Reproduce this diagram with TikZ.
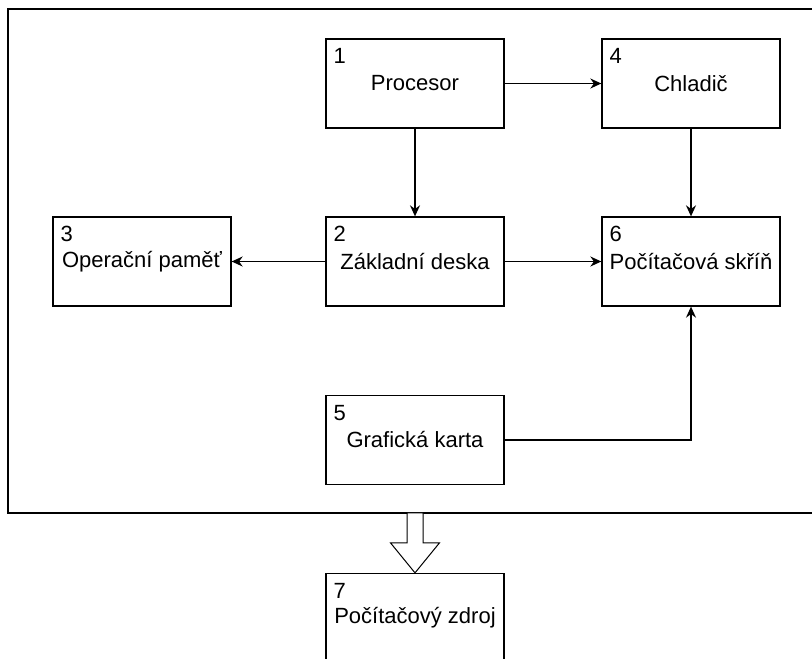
\documentclass[tikz,border=0pt]{standalone}
\usepackage{fontspec}
\setmainfont{Liberation Sans}
\usetikzlibrary{arrows.meta}

\begin{document}
\begin{tikzpicture}[x=1pt,y=-1pt,
    blok/.style={draw, line width=1.3pt, minimum width=178pt, minimum height=89pt,
        inner sep=0pt, font=\fontsize{22}{26}\selectfont},
    cislo/.style={anchor=north west, inner sep=0pt, xshift=8pt, yshift=-10pt,
        font=\fontsize{22}{26}\selectfont},
    sipka/.style={line width=1.4pt, -{Stealth[length=11pt,width=10pt]}}]
        % Okraje obrazku
        \useasboundingbox (0,0) rectangle (812,659);
        \clip (0,0) rectangle (812,659);

        % Ramecek (skrin)
        \draw[line width=1.3pt] (830,9) -- (8,9) -- (8,513) -- (830,513);

        % Bloky
        \node[blok, label={[cislo]north west:1}] (procesor) at (415,83.5) {Procesor};
        \node[blok, label={[cislo]north west:4}] (chladic) at (691,83.5) {Chladič};
        \node[blok, label={[cislo]north west:2}] (deska) at (415,261.5) {Základní deska};
        \node[blok, label={[cislo]north west:3}] (pamet) at (142,261.5) {Operační paměť};
        \node[blok, label={[cislo]north west:6}] (skrin) at (691,261.5) {Počítačová skříň};
        \node[blok, label={[cislo]north west:5}] (karta) at (415,440) {Grafická karta};
        \node[blok, label={[cislo]north west:7}] (zdroj) at (415,618) {Počítačový zdroj};

        % Spojeni
        \draw[sipka] (procesor) -- (chladic);
        \draw[sipka] (procesor) -- (deska);
        \draw[sipka] (deska) -- (pamet);
        \draw[sipka] (deska) -- (skrin);
        \draw[sipka] (chladic) -- (skrin);
        \draw[sipka] (karta) -| (skrin);

        % Velka sipka ke zdroji
        \coordinate (spicka) at (zdroj.north);
        \draw[line width=1pt, fill=white] (spicka) -- ++(-24.5,-30) -- ++(16.5,0) -- ++(0,-30)
            -- ++(16,0) -- ++(0,30) -- ++(16.5,0) -- cycle;
    \end{tikzpicture}
\end{document}
